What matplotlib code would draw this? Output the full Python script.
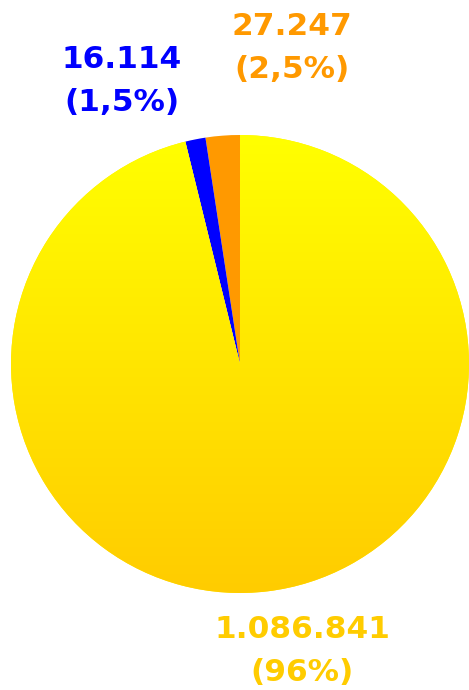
import matplotlib
matplotlib.use("Agg")
import matplotlib.pyplot as plt
import numpy as np
from matplotlib.colors import LinearSegmentedColormap

values = [27247, 16114, 1086841]
value_labels = ["27.247", "16.114", "1.086.841"]
pct_labels = ["(2,5%)", "(1,5%)", "(96%)"]
colors = ["#FF9900", "#0000FF", "#FFEE00"]
text_colors = ["#FF9900", "#0000FF", "#FFCC00"]

W, H = 469, 690
fig = plt.figure(figsize=(W / 100, H / 100), dpi=100)
ax = fig.add_axes([0, 0, 1, 1])

cx, cy, r = 240, H - 364, 229
wedges, _ = ax.pie(values, colors=colors, startangle=90, counterclock=True,
                   center=(cx, cy), radius=r, frame=True,
                   wedgeprops=dict(linewidth=0))

# gradient on the big wedge
cmap = LinearSegmentedColormap.from_list("yel", ["#FFCC00", "#FFFF00"])
grad = np.linspace(0, 1, 256).reshape(-1, 1)
im = ax.imshow(grad, cmap=cmap, origin="lower", aspect="auto",
               extent=(cx - r, cx + r, cy - r, cy + r), zorder=3)
im.set_clip_path(wedges[2])
ax.set_xlim(0, W)
ax.set_ylim(0, H)
ax.axis("off")

label_pos = [(292, H - 48), (122, H - 81), (302, H - 651)]
for (x, y), vl, pl, tc in zip(label_pos, value_labels, pct_labels, text_colors):
    ax.text(x, y, vl + "\n" + pl, ha="center", va="center", color=tc,
            fontsize=22.5, fontweight="bold", family="DejaVu Sans",
            linespacing=1.62, zorder=5)

fig.savefig("out.png", dpi=100)
